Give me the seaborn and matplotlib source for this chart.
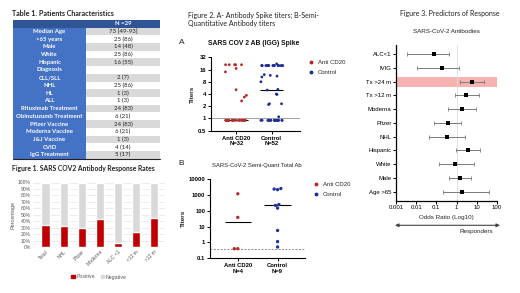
import numpy as np
import pandas as pd
import matplotlib
matplotlib.use("Agg")
import matplotlib.pyplot as plt
import seaborn as sns
from matplotlib.patches import Rectangle
from matplotlib.lines import Line2D

# ---------------- data ----------------
table_title = "Table 1. Patients Characteristics"
table_header = "N =29"
table_rows = ["Median Age", ">65 years", "Male", "White", "Hispanic", "Diagnosis",
              "CLL/SLL", "NHL", "HL", "ALL", "Rituximab Treatment",
              "Obinutuzumb Treatment", "Pfizer Vaccine", "Moderna Vaccine",
              "J&J Vaccine", "CVID", "IgG Treatment"]
table_vals = ["73 [49-93]", "25 (86)", "14 (48)", "25 (86)", "16 (55)", "",
              "2 (7)", "25 (86)", "1 (3)", "1 (3)", "24 (83)", "6 (21)",
              "24 (83)", "6 (21)", "1 (3)", "4 (14)", "5 (17)"]

resp_cats = ["Total", "NHL", "Pfizer", "Moderna", "ALC <1", "<12 m", ">12 m"]
resp_positive = [34.5, 32, 29.5, 44, 6.5, 23.5, 45]
resp_negative = [65.5, 68, 70.5, 56, 93.5, 76.5, 55]

spike_groups = ["Anti CD20\nN=32", "Control\nN=52"]
spike_anti = [21, 21, 21, 21, 21, 17, 14, 5.1, 3.7, 3.35, 2.7] + [0.9] * 21
spike_ctrl = ([22] + [20] * 19 + [12, 11.5, 11, 10.5, 8, 5.2, 5.0, 4.0, 3.9,
              2.3, 2.3, 2.2, 1.1] + [0.9] * 19)
spike_ticks = [0.5, 1, 2, 4, 8, 16, 32]

semi_groups = ["Anti CD20\nN=4", "Control\nN=9"]
semi_anti = [1200, 38, 0.39, 0.39]
semi_ctrl = [2200, 2400, 2600, 250, 220, 148, 5.6, 1.1, 0.5]
semi_limit = 0.39
semi_ticks = [0.1, 1, 10, 100, 1000, 10000]

pred_labels = ["ALC<1", "IVIG", "Tx >24 m", "Tx >12 m", "Moderna", "Pfizer",
               "NHL", "Hispanic", "White", "Male", "Age >65"]
pred_or = [0.072, 0.2, 5.5, 3.0, 1.85, 0.38, 0.34, 3.5, 0.83, 1.4, 1.85]
pred_lo = [0.0035, 0.0105, 1.5, 0.87, 0.38, 0.078, 0.043, 0.98, 0.13, 0.43, 0.21]
pred_hi = [0.43, 1.26, 24, 12.6, 8.7, 1.7, 2.5, 13.7, 7.4, 5.4, 40]
pred_highlight = "Tx >24 m"
pred_ticks = [0.001, 0.01, 0.1, 1, 10, 100]

# ---------------- setup ----------------
sns.set_theme(style="white")
plt.rcParams["font.family"] = ["Liberation Sans", "DejaVu Sans"]
W, H = 520, 293
fig = plt.figure(figsize=(W / 100, H / 100), dpi=100)
fig.patch.set_facecolor("white")

def px(x0, y0, x1, y1):
    return [x0 / W, 1 - y1 / H, (x1 - x0) / W, (y1 - y0) / H]

ov = fig.add_axes([0, 0, 1, 1])
ov.set_xlim(0, W)
ov.set_ylim(H, 0)
ov.axis("off")

CAL = ["Lato", "DejaVu Sans"]
RED = "#b8282b"
BLUE = "#1f2e9a"

# ---------------- Table 1 ----------------
ov.text(12, 14, table_title, fontsize=5.1, fontweight="bold", family=CAL,
        color="#222222", va="center", ha="left")
tx0, tx1, tx2 = 13, 86, 160
hy0, hy1 = 20, 27.5
rh = (158.8 - hy1) / len(table_rows)
ov.add_patch(Rectangle((tx0, hy0), tx2 - tx0, hy1 - hy0, color="#2f5597", lw=0))
ov.text((tx1 + tx2) / 2, (hy0 + hy1) / 2, table_header, fontsize=4.3,
        fontweight="bold", family=CAL, color="white", ha="center", va="center")
for i, (lab, val) in enumerate(zip(table_rows, table_vals)):
    y = hy1 + i * rh
    ov.add_patch(Rectangle((tx0, y), tx1 - tx0, rh, color="#4472c4", lw=0))
    ov.add_patch(Rectangle((tx1, y), tx2 - tx1, rh,
                           color="#d9d9d9" if i % 2 == 0 else "white", lw=0))
    ov.text((tx0 + tx1) / 2, y + rh / 2, lab, fontsize=4.3, fontweight="bold",
            family=CAL, color="white", ha="center", va="center")
    ov.text((tx1 + tx2) / 2, y + rh / 2, val, fontsize=4.3, family=CAL,
            color="#222222", ha="center", va="center")
ov.plot([tx0, tx2], [hy1 + len(table_rows) * rh] * 2, color="#222222", lw=0.8)

# ---------------- Figure 1 ----------------
ov.text(83, 169, "Figure 1. SARS COV2 Antibody Response Rates", fontsize=4.9,
        fontweight="bold", family=CAL, color="#222222", ha="center", va="center")
ax1 = fig.add_axes(px(33, 182.5, 165, 247))
df1 = pd.DataFrame({"cat": resp_cats, "pos": resp_positive, "neg": resp_negative})
df1["total"] = df1["pos"] + df1["neg"]
sns.barplot(data=df1, x="cat", y="total", color="#d9d9d9", width=0.46,
            saturation=1, ax=ax1, zorder=2)
sns.barplot(data=df1, x="cat", y="pos", color="#c00000", width=0.46,
            saturation=1, ax=ax1, zorder=3)
ax1.set_ylim(0, 100)
ax1.set_xlim(-0.7, 6.6)
ax1.set_yticks(np.arange(0, 101, 10))
ax1.set_yticklabels([f"{v}%" for v in range(0, 101, 10)])
ax1.grid(axis="y", color="#e4e4e4", lw=0.5, zorder=0)
ax1.set_axisbelow(True)
for s in ax1.spines.values():
    s.set_visible(False)
ax1.tick_params(axis="both", labelsize=3.6, colors="#595959", length=0, pad=1.5)
plt.setp(ax1.get_xticklabels(), rotation=45, ha="right", rotation_mode="anchor")
ax1.set_xlabel("")
ax1.set_ylabel("Percentage", fontsize=4, color="#595959", labelpad=2)
hand1 = [Rectangle((0, 0), 1, 1, color="#c00000"), Rectangle((0, 0), 1, 1, color="#d9d9d9")]
ax1.legend(hand1, ["Positive", "Negative"], loc="center",
           bbox_to_anchor=(0.5, -(277 - 247) / 64.5), ncol=2, frameon=False,
           fontsize=3.8, handlelength=0.6, handleheight=0.6, handletextpad=0.3,
           columnspacing=1.2, labelcolor="#595959")

# ---------------- Figure 2 ----------------
ov.text(187.7, 15, "Figure 2. A- Antibody Spike titers; B-Semi-", fontsize=5.0,
        family=CAL, color="#222222", ha="left", va="center")
ov.text(187.7, 23.3, "Quantitative Antibody titers", fontsize=5.0,
        family=CAL, color="#222222", ha="left", va="center")
ov.text(182, 43, "A", fontsize=6, color="#222222", ha="center", va="center")
ov.text(254, 43.5, "SARS COV 2 AB (IGG) Spike", fontsize=4.9, fontweight="bold",
        color="#111111", ha="center", va="center")
ov.text(181, 163.5, "B", fontsize=6, color="#222222", ha="center", va="center")
ov.text(257, 165, "SARS-CoV-2 Semi-Quant Total Ab", fontsize=4.2,
        color="#222222", ha="center", va="center")

# Panel A
axA = fig.add_axes(px(211, 57.3, 300, 130.7))
axA.set_yscale("log", base=2)
dfA = pd.DataFrame({"group": [spike_groups[0]] * len(spike_anti) + [spike_groups[1]] * len(spike_ctrl),
                    "titer": spike_anti + spike_ctrl})
np.random.seed(11)
sns.stripplot(data=dfA, x="group", y="titer", hue="group", palette=[RED, BLUE],
              jitter=0.32, size=2.0, linewidth=0, legend=False, ax=axA, zorder=3)
axA.axhline(1, color="#a0a0a0", lw=0.7, zorder=1)
for i, vals in enumerate([spike_anti, spike_ctrl]):
    axA.hlines(np.median(vals), i - 0.33, i + 0.33, color="black", lw=0.8, zorder=2)
axA.set_ylim(0.5, 32)
axA.set_xlim(-0.72, 1.8)
axA.set_yticks(spike_ticks)
axA.set_yticklabels([f"{t:g}" for t in spike_ticks])
axA.minorticks_off()

# Panel B
axB = fig.add_axes(px(210, 179.3, 305, 258))
axB.set_yscale("log")
dfB = pd.DataFrame({"group": [semi_groups[0]] * len(semi_anti) + [semi_groups[1]] * len(semi_ctrl),
                    "titer": semi_anti + semi_ctrl})
axB.set_ylim(0.1, 10000)
axB.set_xlim(-0.7, 1.69)
sns.swarmplot(data=dfB, x="group", y="titer", hue="group", palette=[RED, BLUE],
              size=2.4, linewidth=0, legend=False, ax=axB, zorder=3)
axB.axhline(semi_limit, color="#8a8a8a", lw=0.7, ls=(0, (2, 1.5)), zorder=1)
for i, vals in enumerate([semi_anti, semi_ctrl]):
    axB.hlines(np.median(vals), i - 0.33, i + 0.33, color="black", lw=0.8, zorder=2)
axB.set_ylim(0.1, 10000)
axB.set_xlim(-0.7, 1.69)
axB.set_yticks(semi_ticks)
axB.set_yticklabels([f"{t:g}" for t in semi_ticks])
axB.minorticks_off()

for ax in (axA, axB):
    sns.despine(ax=ax)
    for s in ("left", "bottom"):
        ax.spines[s].set_color("black")
        ax.spines[s].set_linewidth(0.8)
    ax.tick_params(axis="both", labelsize=4.2, length=2, width=0.7, pad=1.5,
                   colors="black", left=True, bottom=True)
    for lab in ax.get_xticklabels() + ax.get_yticklabels():
        lab.set_fontweight("bold")
    ax.set_xlabel("")
    ax.set_ylabel("Titers", fontsize=4.6, fontweight="bold", labelpad=2)

legh = [Line2D([], [], marker="o", ls="", color=RED, markersize=1.8),
        Line2D([], [], marker="o", ls="", color=BLUE, markersize=1.8)]
fig.legend(legh, ["Anti CD20", "Control"], loc="upper left",
           bbox_to_anchor=(305 / W, 1 - 57 / H), frameon=False, fontsize=4.3,
           handletextpad=0.6, labelspacing=0.8, borderpad=0, handlelength=1)
fig.legend(legh, ["Anti CD20", "Control"], loc="upper left",
           bbox_to_anchor=(310 / W, 1 - 178.5 / H), frameon=False, fontsize=4.3,
           handletextpad=0.6, labelspacing=0.8, borderpad=0, handlelength=1)

# ---------------- Figure 3 ----------------
ov.text(450, 13.3, "Figure 3. Predictors of Response", fontsize=5.0,
        family=CAL, color="#222222", ha="center", va="center")
ov.text(446, 31.7, "SARS-CoV-2 Antibodies", fontsize=4.5, color="#222222",
        ha="center", va="center")
axF = fig.add_axes(px(396, 45, 497, 201))
axF.set_xscale("log")
ypos = np.arange(len(pred_labels))
hi_idx = pred_labels.index(pred_highlight)
axF.axhspan(hi_idx - 0.36, hi_idx + 0.36, color="#f7b2b2", lw=0, zorder=0)
axF.axvline(1, color="#dcdcdc", lw=0.6, zorder=0.5)
or_arr = np.array(pred_or)
axF.errorbar(or_arr, ypos, xerr=[or_arr - np.array(pred_lo), np.array(pred_hi) - or_arr],
             fmt="none", ecolor="#7a7a7a", elinewidth=0.7, capsize=1.3, capthick=0.6, zorder=2)
sns.scatterplot(x=pred_or, y=ypos, marker="s", color="black", s=5, linewidth=0,
                ax=axF, zorder=3)
axF.set_xlim(0.001, 100)
axF.set_ylim(len(pred_labels) - 1 + 0.675, -0.654)
axF.set_yticks(ypos)
axF.set_yticklabels(pred_labels)
axF.set_xticks(pred_ticks)
axF.set_xticklabels([f"{t:g}" for t in pred_ticks])
axF.minorticks_off()
sns.despine(ax=axF)
for s in ("left", "bottom"):
    axF.spines[s].set_color("black")
    axF.spines[s].set_linewidth(0.9)
axF.tick_params(axis="both", labelsize=4.3, length=2, width=0.7, pad=1.2,
                colors="black", left=True, bottom=True)
axF.set_xlabel("Odds Ratio (Log10)", fontsize=4.5, labelpad=3)
axF.set_ylabel("")
ov.annotate("", xy=(500, 225.3), xytext=(395, 225.3),
            arrowprops=dict(arrowstyle="<|-|>", color="#444444", lw=0.8,
                            mutation_scale=5, shrinkA=0, shrinkB=0))
ov.text(476, 231, "Responders", fontsize=4.5, color="#222222", ha="center", va="center")

fig.savefig("out.png", dpi=100, facecolor="white")
